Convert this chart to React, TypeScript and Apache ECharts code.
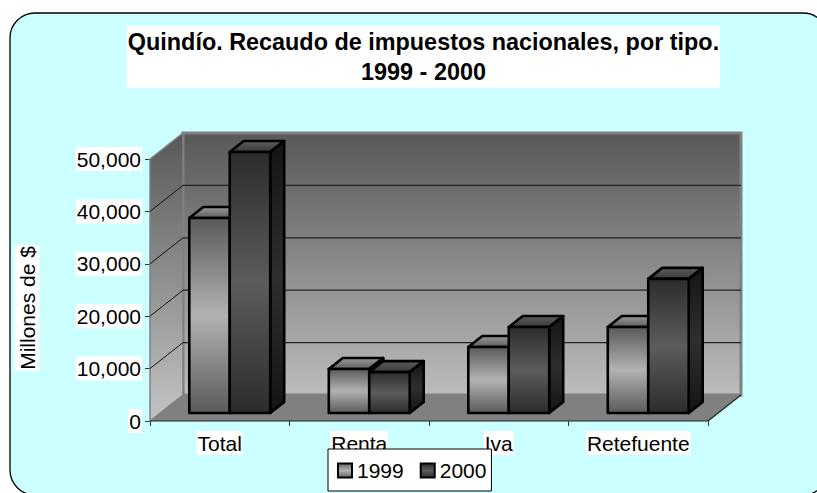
import React, { useEffect, useRef } from "react";
import * as echarts from "echarts";

const categories = ["Total", "Renta", "Iva", "Retefuente"];
const values1999 = [37200, 8400, 12600, 16400];
const values2000 = [49800, 7800, 16400, 25600];
const gridValues = [10000, 20000, 30000, 40000, 50000];
const titleText = "Quindío. Recaudo de impuestos nacionales, por tipo.\n1999 - 2000";
const yAxisTitle = "Millones de $";
const FONT = "'Liberation Sans', Arial, sans-serif";

const vGrad = (stops: [number, string][]) => new echarts.graphic.LinearGradient(0, 0, 0, 1, stops.map(([offset, color]) => ({ offset, color })));

const DEPTH = [33, -26];
const BAR_SHIFT = [10, -8];
const BAR_DEPTH = [14, -11];

const front1999 = () => vGrad([[0, "#5a5a5a"], [0.5, "#b2b2b2"], [1, "#5a5a5a"]]);
const front2000 = () => vGrad([[0, "#2c2c2c"], [0.5, "#5c5c5c"], [1, "#2c2c2c"]]);

const wallSeries = {
  type: "custom",
  name: "walls",
  silent: true,
  z: 1,
  clip: false,
  data: [[0, 0]],
  encode: { x: 0, y: 1 },
  renderItem: (_: any, api: any) => {
    const bl = api.coord([0, 0]);
    const band = api.size([1, 0])[0];
    const left = bl[0] - band / 2;
    const y0 = bl[1];
    const yTop = api.coord([0, 50000])[1];
    const right = left + band * categories.length;
    const [dx, dy] = DEPTH;
    const wallFill = vGrad([[0, "#585858"], [1, "#bcbcbc"]]);
    const children: any[] = [
      { type: "rect", shape: { x: left + dx, y: yTop + dy, width: right - left, height: y0 - yTop }, style: { fill: wallFill, stroke: "#808080", lineWidth: 3 } },
      { type: "polygon", shape: { points: [[left, y0], [left, yTop], [left + dx, yTop + dy], [left + dx, y0 + dy]] }, style: { fill: vGrad([[0, "#585858"], [1, "#c4c4c4"]]), stroke: "#808080", lineWidth: 1.5 } },
      { type: "polygon", shape: { points: [[left, y0], [right, y0], [right + dx, y0 + dy], [left + dx, y0 + dy]] }, style: { fill: "#808080" } },
      { type: "line", shape: { x1: left, y1: y0, x2: right, y2: y0 }, style: { stroke: "#222", lineWidth: 1.2 } },
      { type: "line", shape: { x1: right, y1: y0, x2: right + dx, y2: y0 + dy }, style: { stroke: "#222", lineWidth: 1.2 } },
    ];
    gridValues.forEach((v) => {
      const y = api.coord([0, v])[1];
      if (v < 50000) {
        children.push({ type: "line", shape: { x1: left, y1: y, x2: left + dx, y2: y + dy }, style: { stroke: "#111", lineWidth: 1 } });
        children.push({ type: "line", shape: { x1: left + dx, y1: y + dy, x2: right + dx, y2: y + dy }, style: { stroke: "#222", lineWidth: 1.3 } });
      }
    });
    return { type: "group", children };
  },
};

const barRenderer = (isFirst: boolean) => (_: any, api: any) => {
  const cat = api.value(0);
  const val = api.value(1);
  const base = api.coord([cat, 0]);
  const top = api.coord([cat, val]);
  const w = api.size([1, 0])[0] * 0.29;
  const x1 = base[0] + BAR_SHIFT[0] - (isFirst ? w : 0);
  const x2 = x1 + w;
  const yb = base[1] + BAR_SHIFT[1];
  const yt = top[1] + BAR_SHIFT[1];
  const [dx, dy] = BAR_DEPTH;
  const edge = { stroke: "#000", lineWidth: 2.6, lineJoin: "round" };
  return {
    type: "group",
    children: [
      { type: "polygon", shape: { points: [[x1, yt], [x2, yt], [x2 + dx, yt + dy], [x1 + dx, yt + dy]] }, style: { fill: isFirst ? vGrad([[0, "#9a9a9a"], [1, "#5c5c5c"]]) : vGrad([[0, "#5c5c5c"], [1, "#3a3a3a"]]), ...edge } },
      { type: "polygon", shape: { points: [[x2, yt], [x2 + dx, yt + dy], [x2 + dx, yb + dy], [x2, yb]] }, style: { fill: isFirst ? "#404040" : vGrad([[0, "#141414"], [0.5, "#2e2e2e"], [1, "#141414"]]), ...edge } },
      { type: "rect", shape: { x: x1, y: yt, width: w, height: yb - yt }, style: { fill: isFirst ? front1999() : front2000(), ...edge } },
    ],
  };
};

const barSeries = (name: string, values: number[], isFirst: boolean) => ({
  type: "custom",
  name,
  z: isFirst ? 3 : 4,
  clip: false,
  itemStyle: { color: isFirst ? "#8a8a8a" : "#444444" },
  data: values.map((v, i) => [i, v]),
  encode: { x: 0, y: 1 },
  renderItem: barRenderer(isFirst),
});

export default function App() {
  const ref = useRef<HTMLDivElement>(null);
  useEffect(() => {
    const chart = echarts.init(ref.current!, undefined, { renderer: "svg" });
    chart.setOption({
      animation: false,
      backgroundColor: "#ffffff",
      title: {
        text: titleText,
        left: 422.5,
        top: 26,
        textAlign: "center",
        backgroundColor: "#ffffff",
        padding: [1, 1, 1, 1],
        z: 6,
        textStyle: { fontFamily: FONT, fontSize: 23.4, fontWeight: "bold", color: "#000", lineHeight: 30 },
      },
      grid: { left: 150, top: 159, width: 558, height: 262 },
      xAxis: {
        type: "category",
        data: categories,
        axisLine: { show: false },
        axisTick: { show: true, length: 5, lineStyle: { color: "#333", width: 1 } },
        axisLabel: { color: "#000", fontFamily: FONT, fontSize: 21, margin: 10, backgroundColor: "#fff", padding: [0, 1], lineHeight: 24 },
      },
      yAxis: {
        type: "value",
        min: 0,
        max: 50000,
        interval: 10000,
        splitLine: { show: false },
        axisLine: { show: false },
        axisTick: { show: true, length: 5, lineStyle: { color: "#333", width: 1 } },
        axisLabel: {
          color: "#000",
          fontFamily: FONT,
          fontSize: 21,
          margin: 8,
          backgroundColor: "#fff",
          padding: [0, 1],
          lineHeight: 24,
          formatter: (v: number) => v.toLocaleString("en-US"),
        },
      },
      legend: {
        left: 328,
        top: 449,
        padding: [10, 5, 9, 9],
        backgroundColor: "#fff",
        borderColor: "#000",
        borderWidth: 1,
        itemWidth: 14,
        itemHeight: 14,
        itemGap: 16,
        textStyle: { fontFamily: FONT, fontSize: 21, color: "#000", lineHeight: 23 },
        data: [
          { name: "1999", icon: "rect", itemStyle: { color: vGrad([[0, "#666"], [0.5, "#b2b2b2"], [1, "#666"]]), borderColor: "#000", borderWidth: 2 } },
          { name: "2000", icon: "rect", itemStyle: { color: vGrad([[0, "#2c2c2c"], [0.5, "#5c5c5c"], [1, "#2c2c2c"]]), borderColor: "#000", borderWidth: 2 } },
        ],
      },
      graphic: [
        { type: "rect", z: -10, shape: { x: 10, y: 13, width: 818, height: 482, r: 25 }, style: { fill: "#ccffff", stroke: "#000", lineWidth: 1.3 } },
        { type: "text", z: 6, x: 27, y: 308, rotation: Math.PI / 2, style: { text: yAxisTitle, fill: "#000", font: `21px ${FONT}`, align: "center", verticalAlign: "middle", backgroundColor: "#fff", padding: [2, 1] } },
      ],
      series: [wallSeries, barSeries("1999", values1999, true), barSeries("2000", values2000, false)],
    });
    return () => chart.dispose();
  }, []);
  return <div ref={ref} style={{ position: "fixed", left: 0, top: 0, width: 817, height: 493 }} />;
}
